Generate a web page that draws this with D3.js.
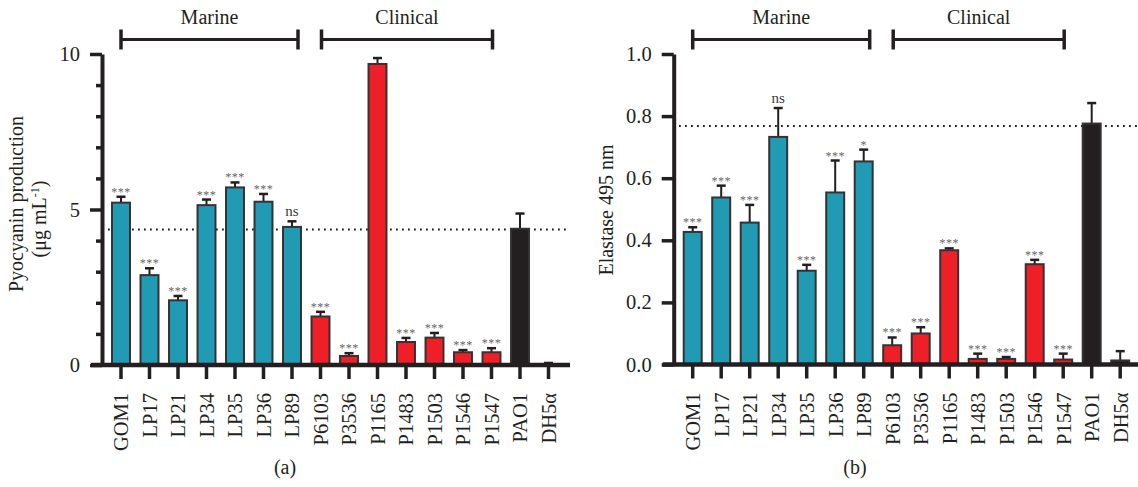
<!DOCTYPE html>
<html>
<head>
<meta charset="utf-8">
<script src="https://cdn.jsdelivr.net/npm/d3@7"></script>
<style>
  body { margin: 0; background: #fff; }
  svg { font-family: "Liberation Serif", "Times New Roman", serif; }
  .axis path, .axis line { stroke: #231f20; }
  .axis text { fill: #231f20; }
</style>
</head>
<body>
<div id="chart"></div>
<script>
// strains and where they come from
var strains = ['GOM1','LP17','LP21','LP34','LP35','LP36','LP89','P6103','P3536','P1165','P1483','P1503','P1546','P1547','PAO1','DH5α'];
var source = ['marine','marine','marine','marine','marine','marine','marine',
              'clinical','clinical','clinical','clinical','clinical','clinical','clinical',
              'control','control'];

// (a) pyocyanin, mean and SD
var pyoMean = [5.22, 2.89, 2.08, 5.14, 5.71, 5.25, 4.44, 1.56, 0.29, 9.68, 0.74, 0.88, 0.41, 0.41, 4.38, 0.03];
var pyoSd   = [0.19, 0.22, 0.14, 0.18, 0.16, 0.25, 0.18, 0.15, 0.09, 0.19, 0.13, 0.15, 0.07, 0.13, 0.49, 0.035];
var pyoSig  = ['***','***','***','***','***','***','ns','***','***','','***','***','***','***','',''];
var pyoTicks = [0, 5, 10];
var pyoMinor = [1, 2, 3, 4, 6, 7, 8, 9];
var pyoRef = 4.36;

// (b) elastase, mean and SD
var elaMean = [0.427, 0.538, 0.457, 0.733, 0.302, 0.554, 0.654, 0.062, 0.100, 0.368, 0.018, 0.018, 0.323, 0.016, 0.776, 0.013];
var elaSd   = [0.015, 0.038, 0.057, 0.093, 0.019, 0.103, 0.038, 0.025, 0.020, 0.006, 0.017, 0.006, 0.014, 0.019, 0.066, 0.030];
var elaSig  = ['***','***','***','ns','***','***','*','***','***','***','***','***','***','***','',''];
var elaTicks = [0, 0.2, 0.4, 0.6, 0.8, 1.0];
var elaRef = 0.768;

var groups = [
  {name: 'Marine', first: 'GOM1', last: 'LP89', padL: 0, padR: 6},
  {name: 'Clinical', first: 'P6103', last: 'P1547', padL: 1, padR: 1}
];

var colors = {marine: '#219ab3', clinical: '#ee1f26', control: '#231f20'};
var ink = '#231f20';
var serif = '"Liberation Serif", "Times New Roman", serif';

var svgWidth = 1138;
var svgHeight = 487;

var svg = d3.select('#chart')
    .append('svg')
    .attr('width', svgWidth)
    .attr('height', svgHeight);

function drawPanel(p) {
    var data = strains.map(function(s, i) {
        return {name: s, src: source[i], mean: p.mean[i], sd: p.sd[i], sig: p.sig[i]};
    });

    var y = d3.scaleLinear().domain(p.domain).range([p.bottom, p.top]);
    var x = d3.scaleBand()
        .domain(strains)
        .range([p.axisX + 4.75, p.axisX + 4.75 + 28.5 * strains.length])
        .paddingInner(0.37)
        .paddingOuter(0.185);
    var bw = x.bandwidth();
    var cx = function(s) { return x(s) + bw / 2; };

    var g = svg.append('g');

    // reference level (dotted)
    g.append('line')
        .attr('x1', p.refStart).attr('x2', p.refEnd)
        .attr('y1', y(p.ref)).attr('y2', y(p.ref))
        .attr('stroke', ink)
        .attr('stroke-width', 2)
        .attr('stroke-dasharray', '1.8,4.2');

    // error bars
    var err = g.append('g').selectAll('g').data(data).enter().append('g');
    err.append('line')
        .attr('x1', d => cx(d.name)).attr('x2', d => cx(d.name))
        .attr('y1', d => y(d.mean)).attr('y2', d => y(d.mean + d.sd))
        .attr('stroke', ink).attr('stroke-width', 2);
    err.append('line')
        .attr('x1', d => cx(d.name) - 4.5).attr('x2', d => cx(d.name) + 4.5)
        .attr('y1', d => y(d.mean + d.sd)).attr('y2', d => y(d.mean + d.sd))
        .attr('stroke', ink).attr('stroke-width', 2.5);

    // bars
    g.append('g').selectAll('rect').data(data).enter()
        .append('rect')
        .attr('x', d => x(d.name))
        .attr('width', bw)
        .attr('y', d => y(d.mean))
        .attr('height', d => y(0) - y(d.mean))
        .attr('fill', d => colors[d.src])
        .attr('stroke', '#333')
        .attr('stroke-width', 2);

    // significance marks
    g.append('g').selectAll('text').data(data.filter(d => d.sig)).enter()
        .append('text')
        .attr('x', d => cx(d.name))
        .attr('y', d => y(d.mean + d.sd) - (d.sig == 'ns' ? 5 : 1))
        .attr('text-anchor', 'middle')
        .attr('font-family', serif)
        .attr('font-size', d => d.sig == 'ns' ? '15px' : '12px')
        .attr('fill', d => d.sig == 'ns' ? '#3a3a3a' : '#666')
        .attr('letter-spacing', d => d.sig == 'ns' ? '0' : '0.5px')
        .text(d => d.sig);

    // y axis
    if (p.minor) {
        var minorAxis = d3.axisLeft(y).tickValues(p.minor).tickSize(6).tickSizeOuter(0).tickFormat('');
        var mg = g.append('g').attr('class', 'axis')
            .attr('transform', `translate(${p.axisX},0)`).call(minorAxis);
        mg.select('.domain').remove();
        mg.selectAll('line').attr('stroke-width', 3.5);
    }
    var leftAxis = d3.axisLeft(y).tickValues(p.ticks).tickSize(12).tickSizeOuter(0)
        .tickPadding(10).tickFormat(p.fmt);
    var yg = g.append('g').attr('class', 'axis')
        .attr('transform', `translate(${p.axisX},0)`).call(leftAxis)
        .attr('font-family', serif)
        .attr('font-size', 20);
    yg.select('.domain').attr('stroke-width', 4);
    yg.selectAll('line').attr('stroke-width', 3.5);
    yg.selectAll('text').attr('font-family', serif).attr('font-size', '20.5px');

    // x axis
    g.append('line')
        .attr('x1', p.axisX - 11).attr('x2', p.xEnd)
        .attr('y1', y(0)).attr('y2', y(0))
        .attr('stroke', ink).attr('stroke-width', 4.5);
    var bottomAxis = d3.axisBottom(x).tickSize(14).tickSizeOuter(0).tickPadding(0);
    var xg = g.append('g').attr('class', 'axis')
        .attr('transform', `translate(0,${y(0)})`).call(bottomAxis)
        .attr('font-family', serif)
        .attr('font-size', 20);
    xg.select('.domain').remove();
    xg.selectAll('line').attr('stroke-width', 3.5);
    xg.selectAll('text')
        .attr('transform', 'rotate(-90)')
        .attr('x', -28)
        .attr('y', 0)
        .attr('dy', '0.36em')
        .attr('text-anchor', 'end')
        .attr('font-family', serif)
        .attr('font-size', '20.5px');

    // y label
    p.yLabel.forEach(function(lab, i) {
        var t = g.append('text')
            .attr('transform', `translate(${lab.x}, ${lab.cy}) rotate(-90)`)
            .attr('text-anchor', 'middle')
            .attr('font-family', serif)
            .attr('font-size', '20px')
            .attr('fill', ink);
        lab.parts.forEach(function(part) {
            var ts = t.append('tspan').text(part.t);
            if (part.sup) ts.attr('font-size', '12px').attr('baseline-shift', '55%');
        });
    });

    // group brackets
    groups.forEach(function(gr) {
        var x1 = cx(gr.first) + gr.padL;
        var x2 = cx(gr.last) + gr.padR;
        var by = 39.5;
        g.append('line').attr('x1', x1).attr('x2', x2).attr('y1', by).attr('y2', by)
            .attr('stroke', ink).attr('stroke-width', 3);
        [x1, x2].forEach(function(xx) {
            g.append('line').attr('x1', xx).attr('x2', xx).attr('y1', by - 10).attr('y2', by + 10)
                .attr('stroke', ink).attr('stroke-width', 3.5);
        });
        g.append('text')
            .attr('x', (x1 + x2) / 2).attr('y', 24)
            .attr('text-anchor', 'middle')
            .attr('font-family', serif)
            .attr('font-size', '20px')
            .attr('fill', ink)
            .text(gr.name);
    });

    // panel letter
    g.append('text')
        .attr('x', p.letterX).attr('y', 474)
        .attr('text-anchor', 'middle')
        .attr('font-family', serif)
        .attr('font-size', '20px')
        .attr('fill', ink)
        .text(p.letter);
}

drawPanel({
    mean: pyoMean, sd: pyoSd, sig: pyoSig, ref: pyoRef,
    domain: [0, 10], ticks: pyoTicks, minor: pyoMinor, fmt: d3.format('d'),
    axisX: 102, top: 54, bottom: 365, xEnd: 570, refStart: 108, refEnd: 567,
    yLabel: [
        {x: 23, cy: 204, parts: [{t: 'Pyocyanin production'}]},
        {x: 46, cy: 219, parts: [{t: '(μg mL'}, {t: '-1', sup: true}, {t: ')'}]}
    ],
    letter: '(a)', letterX: 285
});

drawPanel({
    mean: elaMean, sd: elaSd, sig: elaSig, ref: elaRef,
    domain: [0, 1], ticks: elaTicks, minor: null, fmt: d3.format('.1f'),
    axisX: 673.7, top: 54, bottom: 364.5, xEnd: 1138, refStart: 679, refEnd: 1138,
    yLabel: [
        {x: 613, cy: 210, parts: [{t: 'Elastase 495 nm'}]}
    ],
    letter: '(b)', letterX: 855
});
</script>
</body>
</html>
